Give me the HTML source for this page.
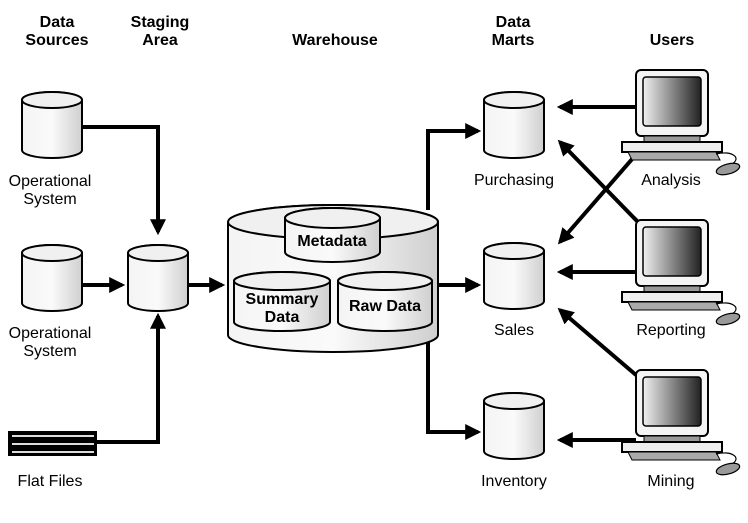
<!DOCTYPE html>
<html><head><meta charset="utf-8"><style>
html,body{margin:0;padding:0;background:#fff;}
svg{display:block;}
text{font-family:"Liberation Sans",sans-serif;}
.h{font-weight:bold;font-size:16px;}
.l{font-size:16px;}
</style></head><body>
<svg width="748" height="523" viewBox="0 0 748 523">
<defs>
<linearGradient id="cg" x1="0" x2="1">
<stop offset="0" stop-color="#f4f4f4"/><stop offset="0.5" stop-color="#fafafa"/><stop offset="1" stop-color="#cfcfcf"/></linearGradient>
<linearGradient id="sg" x1="0" x2="1">
<stop offset="0" stop-color="#f0f0f0"/><stop offset="1" stop-color="#222"/></linearGradient>
<marker id="a" markerWidth="4" markerHeight="4" refX="3.2" refY="2" orient="auto" markerUnits="strokeWidth"><path d="M0,0 L4,2 L0,4 z" fill="#000"/></marker>
<g id="cyl">
<path d="M0,8 A30,8 0 0 1 60,8 L60,58 A30,8 0 0 1 0,58 Z" fill="url(#cg)" stroke="#000" stroke-width="2"/>
<ellipse cx="30" cy="8" rx="30" ry="8" fill="#f0f0f0" stroke="#000" stroke-width="2"/>
</g>
<g id="pc">
<rect x="14" y="0" width="72" height="66" rx="5" fill="#f4f4f4" stroke="#000" stroke-width="2"/>
<rect x="21" y="7" width="58" height="49" rx="3" fill="url(#sg)" stroke="#000" stroke-width="1.5"/>
<rect x="22" y="66" width="56" height="6" fill="#999" stroke="#000" stroke-width="1"/>
<rect x="0" y="72" width="100" height="10" fill="#eee" stroke="#000" stroke-width="2"/>
<path d="M6,82 L94,82 L98,90 L10,90 Z" fill="#aaa" stroke="#000" stroke-width="1"/>
<path d="M94,84 C110,80 120,88 110,94" fill="none" stroke="#000" stroke-width="1.2"/>
<ellipse cx="106" cy="99" rx="12" ry="5" fill="#999" stroke="#000" stroke-width="1.2" transform="rotate(-15 106 99)"/>
</g>
</defs>

<g stroke="#000" stroke-width="4" fill="none" marker-end="url(#a)">
<polyline points="82,127 158,127 158,232"/>
<line x1="82" y1="285" x2="122" y2="285"/>
<polyline points="95,442 158,442 158,316"/>
<line x1="188" y1="285" x2="222" y2="285"/>
<polyline points="428,210 428,131 478,131"/>
<line x1="438" y1="285" x2="478" y2="285"/>
<polyline points="428,340 428,432 478,432"/>
<line x1="636" y1="107" x2="560" y2="107"/>
<line x1="636" y1="272" x2="560" y2="272"/>
<line x1="636" y1="440" x2="560" y2="440"/>
<line x1="638" y1="222" x2="560" y2="142"/>
<line x1="640" y1="150" x2="560" y2="242"/>
<line x1="636" y1="375" x2="560" y2="310"/>
</g>

<use href="#cyl" x="22" y="92"/>
<use href="#cyl" x="22" y="245"/>
<use href="#cyl" x="128" y="245"/>
<use href="#cyl" x="484" y="92"/>
<use href="#cyl" x="484" y="243"/>
<use href="#cyl" x="484" y="393"/>

<!-- warehouse -->
<path d="M228,222 A105,17 0 0 1 438,222 L438,335 A105,17 0 0 1 228,335 Z" fill="url(#cg)" stroke="#000" stroke-width="2"/>
<ellipse cx="333" cy="222" rx="105" ry="17" fill="#f0f0f0" stroke="#000" stroke-width="2"/>
<g transform="translate(285,208)"><path d="M0,10 A47.5,10 0 0 1 95,10 L95,44 A47.5,10 0 0 1 0,44 Z" fill="url(#cg)" stroke="#000" stroke-width="2"/><ellipse cx="47.5" cy="10" rx="47.5" ry="10" fill="#f0f0f0" stroke="#000" stroke-width="2"/></g>
<g transform="translate(234,272)"><path d="M0,9 A48,9 0 0 1 96,9 L96,50 A48,9 0 0 1 0,50 Z" fill="url(#cg)" stroke="#000" stroke-width="2"/><ellipse cx="48" cy="9" rx="48" ry="9" fill="#f0f0f0" stroke="#000" stroke-width="2"/></g>
<g transform="translate(338,272)"><path d="M0,9 A47,9 0 0 1 94,9 L94,50 A47,9 0 0 1 0,50 Z" fill="url(#cg)" stroke="#000" stroke-width="2"/><ellipse cx="47" cy="9" rx="47" ry="9" fill="#f0f0f0" stroke="#000" stroke-width="2"/></g>
<text class="h" x="332" y="246" text-anchor="middle">Metadata</text>
<text class="h" x="282" y="304" text-anchor="middle">Summary</text>
<text class="h" x="282" y="322" text-anchor="middle">Data</text>
<text class="h" x="385" y="311" text-anchor="middle">Raw Data</text>

<!-- flat files -->
<rect x="8" y="431" width="89" height="25" fill="#000"/>
<rect x="12" y="435" width="82" height="2" fill="#ddd"/>
<rect x="12" y="443" width="82" height="2" fill="#ddd"/>
<rect x="12" y="451" width="82" height="2" fill="#ddd"/>

<use href="#pc" x="622" y="70"/>
<use href="#pc" x="622" y="220"/>
<use href="#pc" x="622" y="370"/>

<text class="h" x="57" y="27" text-anchor="middle">Data</text>
<text class="h" x="57" y="45" text-anchor="middle">Sources</text>
<text class="h" x="160" y="27" text-anchor="middle">Staging</text>
<text class="h" x="160" y="45" text-anchor="middle">Area</text>
<text class="h" x="335" y="45" text-anchor="middle">Warehouse</text>
<text class="h" x="513" y="27" text-anchor="middle">Data</text>
<text class="h" x="513" y="45" text-anchor="middle">Marts</text>
<text class="h" x="672" y="45" text-anchor="middle">Users</text>

<text class="l" x="50" y="186" text-anchor="middle">Operational</text>
<text class="l" x="50" y="204" text-anchor="middle">System</text>
<text class="l" x="50" y="338" text-anchor="middle">Operational</text>
<text class="l" x="50" y="356" text-anchor="middle">System</text>
<text class="l" x="50" y="486" text-anchor="middle">Flat Files</text>
<text class="l" x="514" y="185" text-anchor="middle">Purchasing</text>
<text class="l" x="514" y="335" text-anchor="middle">Sales</text>
<text class="l" x="514" y="486" text-anchor="middle">Inventory</text>
<text class="l" x="671" y="185" text-anchor="middle">Analysis</text>
<text class="l" x="671" y="335" text-anchor="middle">Reporting</text>
<text class="l" x="671" y="486" text-anchor="middle">Mining</text>
</svg>
</body></html>
